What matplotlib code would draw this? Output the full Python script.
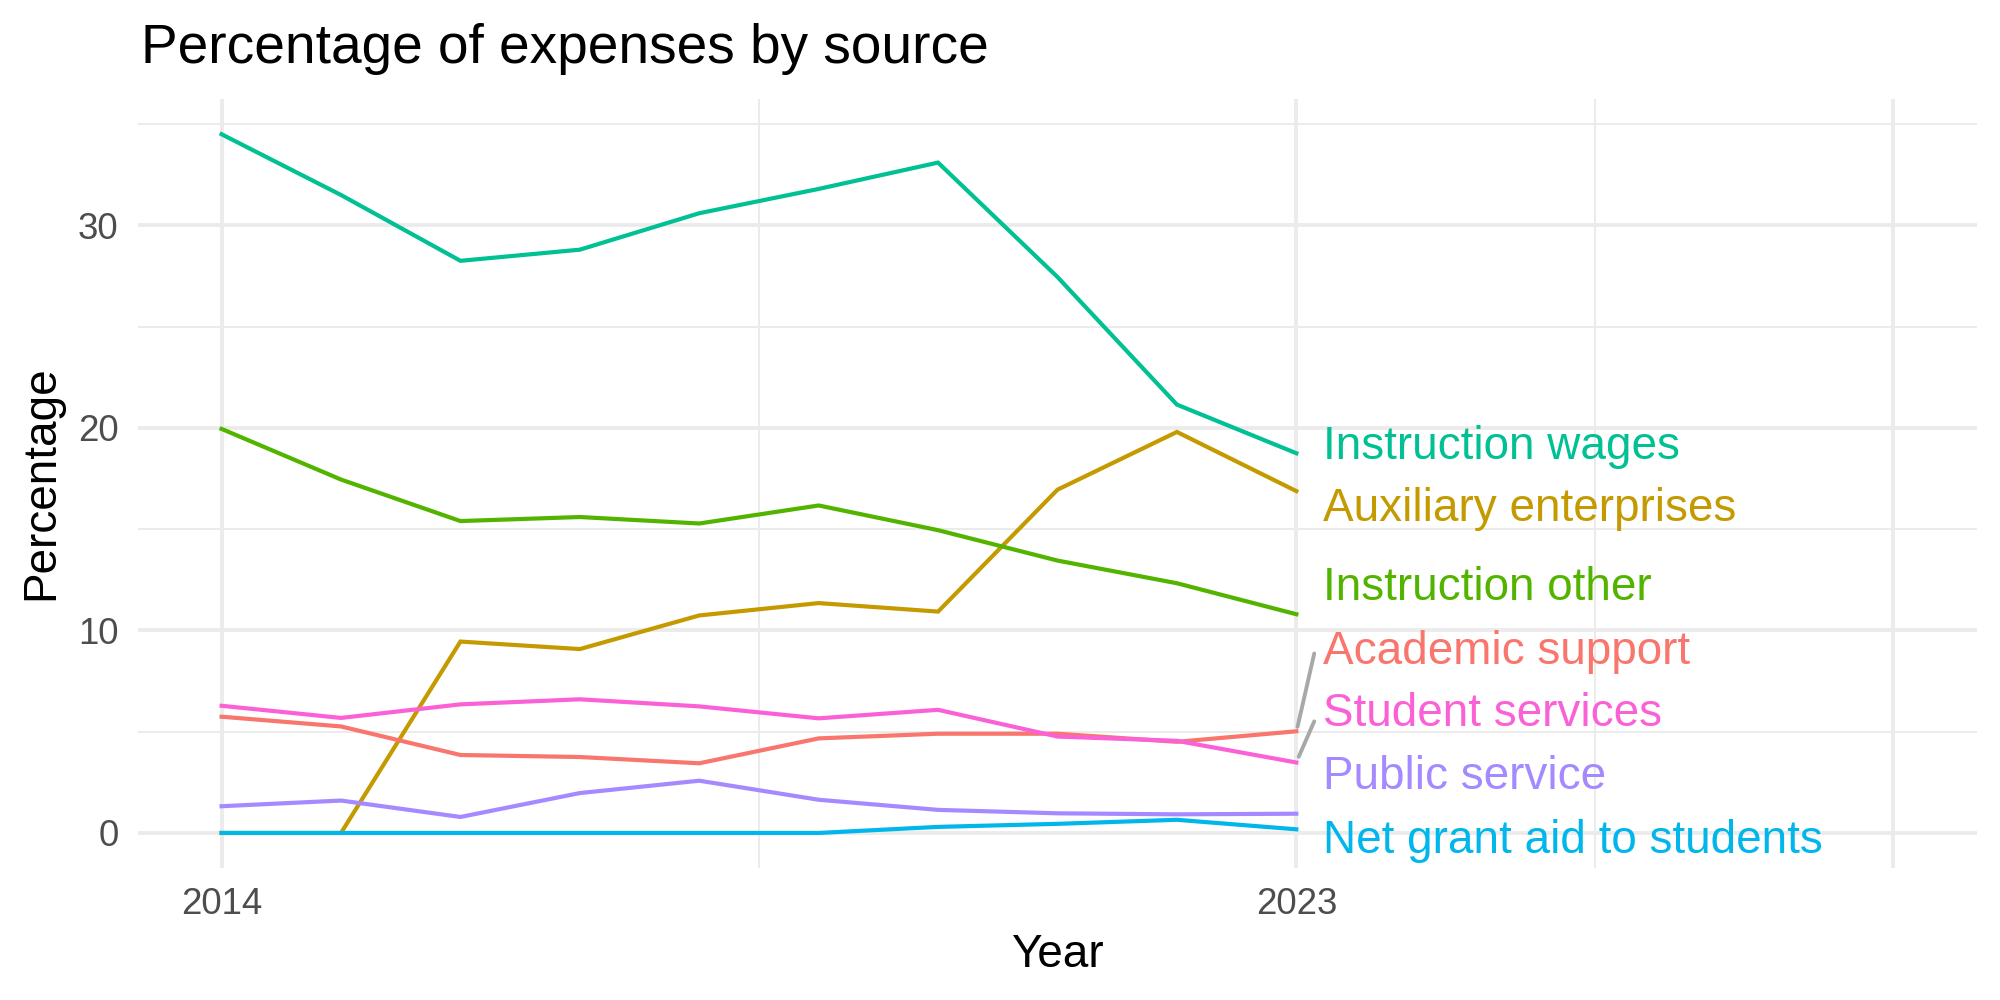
import matplotlib.pyplot as plt
from matplotlib.ticker import FixedLocator

plt.rcParams['font.family'] = ['Liberation Sans', 'DejaVu Sans']

years = [2014, 2015, 2016, 2017, 2018, 2019, 2020, 2021, 2022, 2023]

sources = ['Instruction wages', 'Auxiliary enterprises', 'Instruction other',
           'Academic support', 'Student services', 'Public service',
           'Net grant aid to students']

instruction_wages = [34.5, 31.5, 28.25, 28.8, 30.6, 31.8, 33.1, 27.45, 21.15, 18.75]
auxiliary = [0.0, 0.0, 9.45, 9.08, 10.74, 11.35, 10.93, 16.95, 19.8, 16.88]
instruction_other = [19.95, 17.45, 15.4, 15.6, 15.28, 16.17, 14.95, 13.45, 12.33, 10.8]
academic_support = [5.74, 5.26, 3.85, 3.75, 3.44, 4.67, 4.9, 4.9, 4.5, 5.02]
student_services = [6.28, 5.68, 6.35, 6.6, 6.25, 5.66, 6.08, 4.76, 4.55, 3.48]
public_service = [1.32, 1.6, 0.79, 1.97, 2.58, 1.64, 1.14, 0.97, 0.92, 0.95]
net_grant = [0.0, 0.0, 0.0, 0.0, 0.0, 0.0, 0.3, 0.45, 0.65, 0.18]

values = [instruction_wages, auxiliary, instruction_other, academic_support,
          student_services, public_service, net_grant]

colors = ['#00C094', '#C49A00', '#53B400', '#F8766D', '#FB61D7', '#A58AFF', '#00B6EB']

# repelled label baselines (layout)
label_y = [18.47, 15.39, 11.48, 8.36, 5.26, 2.15, -0.97]
label_x = 2023.22

fig = plt.figure(figsize=(10, 5), dpi=200)
ax = fig.add_axes([138 / 2000, 1 - 868 / 1000, (1977 - 138) / 2000, (868 - 99) / 1000])

ax.set_xlim(2013.3, 2028.7)
ax.set_ylim(-1.73, 36.24)

ax.xaxis.set_major_locator(FixedLocator([2014, 2023, 2028]))
ax.xaxis.set_minor_locator(FixedLocator([2018.5, 2025.5]))
ax.set_xticklabels(['2014', '2023', ''])
ax.yaxis.set_major_locator(FixedLocator([0, 10, 20, 30]))
ax.yaxis.set_minor_locator(FixedLocator([5, 15, 25, 35]))
ax.set_yticklabels(['0', '10', '20', '30'])

ax.grid(which='major', color='#EBEBEB', linewidth=1.4)
ax.grid(which='minor', color='#EBEBEB', linewidth=0.7)
ax.set_axisbelow(True)
for s in ax.spines.values():
    s.set_visible(False)
ax.tick_params(which='both', length=0)
ax.tick_params(axis='x', labelsize=13.2, labelcolor='#4D4D4D', pad=7)
ax.tick_params(axis='y', labelsize=13.2, labelcolor='#4D4D4D', pad=7)

for name, vals, col in zip(sources, values, colors):
    ax.plot(years, vals, color=col, linewidth=1.5, solid_joinstyle='miter')

# label connectors
ax.plot([2023.01, 2023.15], [5.24, 8.86], color='#A8A8A8', linewidth=1.4,
        solid_capstyle='round')
ax.plot([2023.02, 2023.15], [3.76, 5.51], color='#A8A8A8', linewidth=1.4,
        solid_capstyle='round')

for name, ly, col in zip(sources, label_y, colors):
    ax.text(label_x, ly, name, color=col, fontsize=16.5, ha='left', va='baseline')

fig.text(141 / 2000, 1 - 62.7 / 1000, 'Percentage of expenses by source',
         fontsize=19.8, ha='left', va='baseline')
fig.text(1057 / 2000, 1 - 967 / 1000, 'Year', fontsize=16.5, ha='center', va='baseline')
fig.text(53 / 2000, 1 - 483 / 1000, 'Percentage', fontsize=16.5, rotation=90,
         ha='center', va='baseline', rotation_mode='anchor')

fig.savefig('out.png', dpi=200)
